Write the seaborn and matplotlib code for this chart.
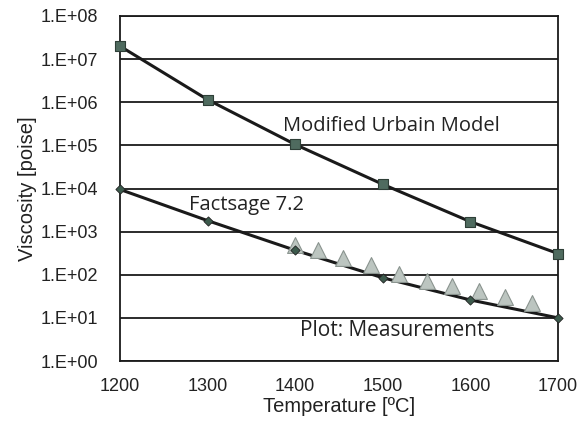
import matplotlib
matplotlib.use("Agg")
import matplotlib.pyplot as plt
import seaborn as sns
import pandas as pd
from matplotlib.ticker import FixedLocator, FixedFormatter

# Data
urbain_T = [1200, 1300, 1400, 1500, 1600, 1700]
urbain_visc = [2.0e7, 1.15e6, 1.05e5, 1.25e4, 1.7e3, 3.1e2]
factsage_T = [1200, 1300, 1400, 1500, 1600, 1700]
factsage_visc = [9.5e3, 1.8e3, 3.7e2, 8.5e1, 2.6e1, 1.0e1]
meas_T = [1400, 1426, 1455, 1486, 1519, 1550, 1579, 1610, 1640, 1670]
meas_visc = [480, 370, 240, 170, 105, 72, 56, 41, 31, 22]
x_ticks = [1200, 1300, 1400, 1500, 1600, 1700]
y_ticks = [1e0, 1e1, 1e2, 1e3, 1e4, 1e5, 1e6, 1e7, 1e8]
y_labels = ["1.E+00", "1.E+01", "1.E+02", "1.E+03", "1.E+04", "1.E+05", "1.E+06", "1.E+07", "1.E+08"]

sns.set_style("white")
plt.rcParams['font.family'] = ['Liberation Sans', 'DejaVu Sans']

fig = plt.figure(figsize=(5.86, 4.25), dpi=100)
ax = fig.add_axes([120/586, 1 - 361/425, (558-120)/586, (361-16)/425])

df_u = pd.DataFrame({"T": urbain_T, "v": urbain_visc})
df_f = pd.DataFrame({"T": factsage_T, "v": factsage_visc})
df_m = pd.DataFrame({"T": meas_T, "v": meas_visc})

ax.set_yscale("log")
sns.lineplot(data=df_u, x="T", y="v", ax=ax, color="#1a1a1a", lw=2.2, zorder=3)
sns.lineplot(data=df_f, x="T", y="v", ax=ax, color="#1a1a1a", lw=2.2, zorder=3)
sns.scatterplot(data=df_u, x="T", y="v", ax=ax, marker="s", s=60, color="#4f6b5f",
                edgecolor="#2e3f37", linewidth=0.8, zorder=5, clip_on=False)
sns.scatterplot(data=df_f, x="T", y="v", ax=ax, marker="D", s=22, color="#3c5a4c",
                edgecolor="#222222", linewidth=0.6, zorder=5, clip_on=False)
sns.scatterplot(data=df_m, x="T", y="v", ax=ax, marker="^", s=130, color="#bcc5c0",
                edgecolor="#8a948f", linewidth=0.8, zorder=4, clip_on=False)

ax.set_xlim(1200, 1700)
ax.set_ylim(1e0, 1e8)
ax.yaxis.set_major_locator(FixedLocator(y_ticks))
ax.yaxis.set_major_formatter(FixedFormatter(y_labels))
ax.yaxis.set_minor_locator(FixedLocator([]))
ax.set_xticks(x_ticks)
ax.set_xticklabels([str(t) for t in x_ticks])

ax.grid(axis="y", color="#1a1a1a", lw=1.3)
ax.grid(axis="x", visible=False)
ax.set_axisbelow(True)
for s in ax.spines.values():
    s.set_color("#1a1a1a")
    s.set_linewidth(1.3)
    s.set_visible(True)

ax.tick_params(axis="x", direction="in", length=4, width=1, colors="#1a1a1a",
               labelsize=13, pad=12, labelcolor="#222222")
ax.tick_params(axis="y", length=0, labelsize=13, pad=16, labelcolor="#222222")

ax.set_xlabel("Temperature [ºC]", fontsize=14.5, color="#222222", labelpad=2)
ax.set_ylabel("Viscosity [poise]", fontsize=14.5, color="#222222", labelpad=2)

tf = ['Open Sans', 'DejaVu Sans']
ax.text(1510, 2.8e5, "Modified Urbain Model", fontsize=14.5, family=tf, color="#222222",
        ha="center", va="center")
ax.text(1344, 4.1e3, "Factsage 7.2", fontsize=14.5, family=tf, color="#222222",
        ha="center", va="center")
ax.text(1517, 5.0e0, "Plot: Measurements", fontsize=15, family=tf, color="#222222",
        ha="center", va="center")

fig.savefig("out.png", dpi=100)
